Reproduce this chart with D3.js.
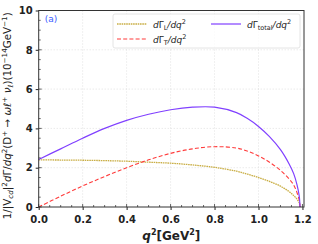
<!DOCTYPE html>
<html>
<head>
<meta charset="utf-8">
<script src="https://cdn.jsdelivr.net/npm/d3@7"></script>
<style>
  body { margin: 0; background: #fff; }
  svg text { font-family: "DejaVu Sans", sans-serif; }
</style>
</head>
<body>
<div id="chart"></div>
<script>
// q^2 sample points (GeV^2) and curves
const q2 = [0, 0.1, 0.2, 0.3, 0.4, 0.5, 0.6, 0.7, 0.8, 0.9, 0.95, 1.0, 1.05, 1.1, 1.14, 1.16, 1.175, 1.185, 1.189];
const gammaL = [2.40, 2.39, 2.38, 2.36, 2.33, 2.28, 2.23, 2.14, 2.02, 1.82, 1.67, 1.50, 1.30, 1.06, 0.78, 0.58, 0.40, 0.22, 0];
const gammaT = [0, 0.55, 1.07, 1.55, 2.00, 2.40, 2.73, 2.96, 3.07, 3.00, 2.84, 2.60, 2.28, 1.86, 1.42, 1.12, 0.74, 0.36, 0];
const gammaTot = [2.42, 2.96, 3.50, 4.00, 4.41, 4.72, 4.95, 5.08, 5.08, 4.80, 4.50, 4.10, 3.58, 2.92, 2.18, 1.70, 1.14, 0.58, 0];
const xTicks = [0, 0.2, 0.4, 0.6, 0.8, 1.0, 1.2];
const yTicks = [0, 2, 4, 6, 8, 10];

const W = 318, H = 244;
const margin = {top: 10.5, right: 14, bottom: 37, left: 38.7};
const width = W - margin.left - margin.right,
      height = H - margin.top - margin.bottom;

const svg = d3.select("#chart").append("svg")
    .attr("width", W).attr("height", H);
const g = svg.append("g")
    .attr("transform", `translate(${margin.left},${margin.top})`);

const x = d3.scaleLinear().domain([0, 1.207]).range([0, width]);
const y = d3.scaleLinear().domain([0, 10]).range([height, 0]);

// grid
g.append("g").selectAll("line").data(xTicks.filter(d => d > 0 && d < 1.2)).enter()
  .append("line")
    .attr("x1", d => x(d)).attr("x2", d => x(d))
    .attr("y1", 0).attr("y2", height)
    .attr("stroke", "#ccc").attr("stroke-width", 0.6).attr("stroke-dasharray", "1,2");
g.append("g").selectAll("line").data(yTicks.filter(d => d > 0 && d < 10)).enter()
  .append("line")
    .attr("y1", d => y(d)).attr("y2", d => y(d))
    .attr("x1", 0).attr("x2", width)
    .attr("stroke", "#ccc").attr("stroke-width", 0.6).attr("stroke-dasharray", "1,2");

// curves
const rows = q2.map((q, i) => ({q, L: gammaL[i], T: gammaT[i], tot: gammaTot[i]}));
const series = [
  {key: "L", color: "#c9ae45", dash: "1.6,0.7", w: 1.3},
  {key: "T", color: "#ff3b3b", dash: "4,2.2", w: 1.1},
  {key: "tot", color: "#8040ff", dash: null, w: 1.2}
];
for (const s of series) {
  const line = d3.line()
      .x(d => x(d.q))
      .y(d => y(d[s.key]))
      .curve(d3.curveCatmullRom.alpha(0.5));
  g.append("path")
      .datum(rows)
      .attr("fill", "none")
      .attr("stroke", s.color)
      .attr("stroke-width", s.w)
      .attr("stroke-dasharray", s.dash)
      .attr("d", line);
}

// axes
const fmt = d3.format(".1f");
const xAx = g.append("g").attr("transform", `translate(0,${height})`)
  .call(d3.axisBottom(x).tickValues(xTicks).tickFormat(fmt).tickSizeInner(3).tickSizeOuter(0));
const yAx = g.append("g")
  .call(d3.axisLeft(y).tickValues(yTicks).tickFormat(d3.format("d")).tickSizeInner(3).tickSizeOuter(0));
for (const ax of [xAx, yAx]) {
  ax.select(".domain").remove();
  ax.selectAll("line").attr("stroke", "#222");
  ax.selectAll("text").attr("font-size", 10).attr("font-weight", "bold")
    .attr("fill", "#222").style("font-family", "DejaVu Sans");
}
xAx.selectAll("text").attr("dy", "0.95em");

// inner major and minor ticks
const minorX = d3.range(0, 1.2001, 0.05);
const minorY = d3.range(0, 10.001, 0.5);
g.append("g").selectAll("line").data(minorX).enter().append("line")
    .attr("x1", d => x(d)).attr("x2", d => x(d))
    .attr("y1", height).attr("y2", d => height - (Math.abs(d * 5 - Math.round(d * 5)) < 1e-6 ? 3 : 2))
    .attr("stroke", "#222").attr("stroke-width", 0.7);
g.append("g").selectAll("line").data(minorY).enter().append("line")
    .attr("y1", d => y(d)).attr("y2", d => y(d))
    .attr("x1", 0).attr("x2", d => (d % 2 === 0 ? 3 : 2))
    .attr("stroke", "#222").attr("stroke-width", 0.7);

// frame
g.append("rect").attr("width", width).attr("height", height)
  .attr("fill", "none").attr("stroke", "#333").attr("stroke-width", 1);

// panel tag
g.append("text").attr("x", 6).attr("y", 11)
  .attr("font-size", 9).attr("fill", "#3a5cff").text("(a)");

// legend
const leg = svg.append("g");
leg.append("rect").attr("x", 113).attr("y", 14).attr("width", 187).attr("height", 34)
  .attr("rx", 2).attr("fill", "#fff").attr("fill-opacity", 0.8)
  .attr("stroke", "#ddd").attr("stroke-width", 0.8);
const legItems = [
  {s: series[0], sub: "L", x: 117, y: 24},
  {s: series[1], sub: "T", x: 117, y: 39},
  {s: series[2], sub: "total", x: 211, y: 24}
];
for (const it of legItems) {
  leg.append("line").attr("x1", it.x).attr("x2", it.x + 30)
    .attr("y1", it.y).attr("y2", it.y)
    .attr("stroke", it.s.color).attr("stroke-width", it.s.w)
    .attr("stroke-dasharray", it.s.dash);
  const t = leg.append("text").attr("x", it.x + 36).attr("y", it.y + 3.5)
    .attr("font-size", 9).attr("fill", "#222");
  t.append("tspan").attr("font-style", "italic").text("d");
  t.append("tspan").text("Γ");
  t.append("tspan").attr("font-size", 6.5).attr("dy", 2).text(it.sub);
  t.append("tspan").attr("font-style", "italic").attr("dy", -2).text("/dq");
  t.append("tspan").attr("font-size", 6.5).attr("dy", -3.5).text("2");
}

// x label
const xl = svg.append("text").attr("x", margin.left + width / 2).attr("y", 240)
  .attr("text-anchor", "middle").attr("font-size", 12).attr("font-weight", "bold").attr("fill", "#222");
xl.append("tspan").attr("font-style", "italic").text("q");
xl.append("tspan").attr("font-size", 8).attr("dy", -5).text("2");
xl.append("tspan").attr("dy", 5).text("[GeV");
xl.append("tspan").attr("font-size", 8).attr("dy", -5).text("2");
xl.append("tspan").attr("dy", 5).text("]");

// y label
const yl = svg.append("text")
  .attr("transform", `translate(11,${margin.top + height / 2 + 7}) rotate(-90)`)
  .attr("text-anchor", "middle").attr("font-size", 10.3).attr("fill", "#222");
const parts = [
  ["1/|V", 0, null], ["cd", 2, "b"], ["|", -2, null], ["2", -4, "s"], ["d", 4, "i"],
  ["Γ/", 0, null], ["dq", 0, "i"], ["2", -4, "s"], ["(D", 4, null], ["+", -4, "s"],
  [" → ", 4, null], ["ωℓ", 0, "i"], ["+", -4, "s"], [" ν", 4, "i"], ["ℓ", 2, "b"],
  [")(10", -2, null], ["−14", -4, "s"], ["GeV", 4, null], ["−1", -4, "s"], [")", 4, null]
];
for (const [txt, dy, kind] of parts) {
  const ts = yl.append("tspan").attr("dy", dy).text(txt);
  if (kind === "i") ts.attr("font-style", "italic");
  if (kind === "s" || kind === "b") ts.attr("font-size", 7.2);
  if (kind === "b") ts.attr("font-style", "italic");
}
</script>
</body>
</html>
